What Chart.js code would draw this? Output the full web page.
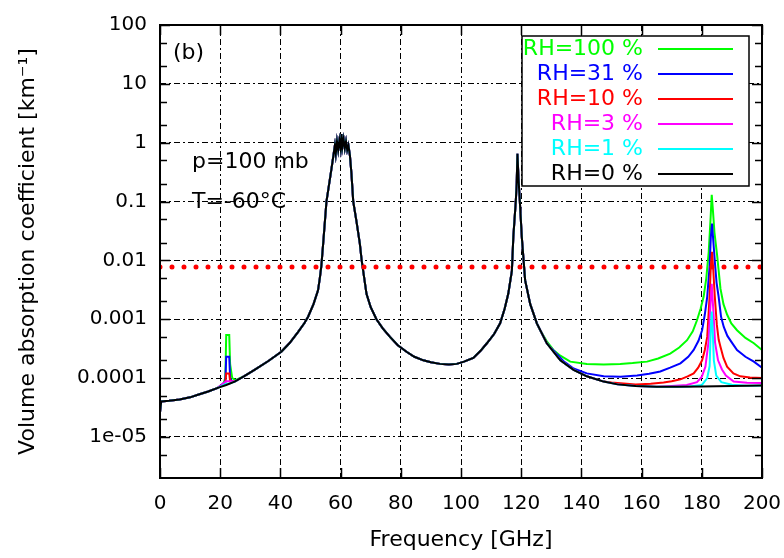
<!DOCTYPE html>
<html>
<head>
<meta charset="utf-8">
<script src="https://cdn.jsdelivr.net/npm/chart.js@4.4.1/dist/chart.umd.min.js"></script>
<style>
  html, body { margin: 0; padding: 0; background: #fff; }
  canvas { display: block; }
</style>
</head>
<body>
<canvas id="absChart" width="784" height="558"></canvas>
<script>
// dry air (RH=0 %), frequency [GHz] and absorption [km^-1]
var dryFreq = [0, 0.4, 3, 6.5, 10, 12.6, 16, 19.2, 22, 24.8, 28, 31.4, 36, 40.3, 43, 45.9, 48, 49.2, 51, 52.5,
    53.1, 53.6, 54.2, 55.3, 56.2, 57, 57.6, 58.1, 58.4, 58.8, 59.2, 59.6, 60.0, 60.3, 60.6, 61.0, 61.4, 61.8, 62.2, 62.6,
    63.1, 63.6, 64.2, 65.3, 66.4, 67, 68.6, 70, 71.9, 74, 76.4, 79, 81.9, 84.5, 87.5, 90, 93, 96, 98.6, 101,
    104.1, 106.5, 108.6, 111, 113, 114.5, 115.7, 116.9, 117.4, 118.2, 118.5, 118.75, 119.1, 119.6, 120.2, 121.3, 123, 125.2, 128.5, 133,
    137.4, 141.8, 147.4, 152, 158, 165, 172, 180, 190, 200];
var dryVals = [2.6e-5, 4.0e-5, 4.1e-5, 4.3e-5, 4.7e-5, 5.2e-5, 5.9e-5, 6.8e-5, 7.6e-5, 8.7e-5, 1.08e-4, 1.38e-4, 1.95e-4, 2.8e-4, 3.9e-4, 6.1e-4, 8.6e-4, 1.1e-3, 1.8e-3, 3.1e-3,
    5.0e-3, 8.0e-3, 0.019, 0.1, 0.2, 0.37, 0.6, 0.9, 0.65, 1.05, 0.75, 1.1, 0.8, 1.4, 0.85, 1.15, 0.8, 1.05, 0.75, 0.9,
    0.6, 0.3, 0.1, 0.045, 0.019, 0.01, 2.7e-3, 1.6e-3, 1.0e-3, 7.0e-4, 5.0e-4, 3.6e-4, 2.8e-4, 2.3e-4, 2.0e-4, 1.85e-4, 1.74e-4, 1.7e-4, 1.74e-4, 1.9e-4,
    2.2e-4, 2.9e-4, 3.9e-4, 5.6e-4, 8.5e-4, 1.5e-3, 2.7e-3, 6.6e-3, 0.026, 0.1, 0.2, 0.65, 0.25, 0.09, 0.025, 4.6e-3, 1.8e-3, 8.5e-4, 3.9e-4, 2.0e-4,
    1.38e-4, 1.07e-4, 8.7e-5, 7.8e-5, 7.3e-5, 7.1e-5, 7.1e-5, 7.2e-5, 7.3e-5, 7.5e-5];

// moist air: only the parts around the 22 GHz and 183 GHz water lines differ from dry air
var rh100Freq = [21.0, 21.7, 22.0, 23.0, 23.3, 24.0, 25.0,
    126.3, 128.5, 130.7, 133, 136.3, 141.8, 147.4, 152.9, 157, 161.8, 165.5, 169.5, 172.5, 175.1, 177, 178.4, 179.6, 180.6, 181.5,
    182.3, 182.9, 183.3, 183.7, 184.2, 185.1, 186.2, 187.2, 188.4, 189.8, 191.7, 194.5, 197.3, 200];
var rh100Vals = [7.8e-5, 1.0e-4, 5.4e-4, 5.4e-4, 1.7e-4, 1.0e-4, 9.2e-5,
    6.5e-4, 4.2e-4, 3.0e-4, 2.4e-4, 1.9e-4, 1.74e-4, 1.7e-4, 1.74e-4, 1.8e-4, 1.9e-4, 2.15e-4, 2.6e-4, 3.3e-4, 4.4e-4, 6.2e-4, 9.6e-4, 1.5e-3, 2.4e-3, 5.0e-3,
    0.014, 0.05, 0.13, 0.07, 0.03, 0.012, 3.3e-3, 1.8e-3, 1.2e-3, 8.5e-4, 6.5e-4, 4.8e-4, 3.9e-4, 3.0e-4];

var rh31Freq = [21.7, 22.0, 23.0, 23.3, 24.0,
    130, 134, 137.4, 141.8, 147.4, 153, 158.5, 162.5, 166.2, 169.5, 172.9, 175.5, 177.3, 178.9, 180.1, 181.0, 181.8, 182.6, 183.0, 183.4,
    183.8, 184.3, 184.9, 185.6, 186.4, 187.3, 188.5, 190, 191.7, 194.5, 197.3, 200];
var rh31Vals = [8.6e-5, 2.3e-4, 2.3e-4, 1.0e-4, 8.6e-5,
    3.2e-4, 1.95e-4, 1.45e-4, 1.2e-4, 1.07e-4, 1.05e-4, 1.1e-4, 1.18e-4, 1.29e-4, 1.5e-4, 1.78e-4, 2.3e-4, 3.0e-4, 4.3e-4, 6.5e-4, 1.2e-3, 2.4e-3, 8.0e-3, 0.025, 0.042,
    0.022, 0.01, 4.2e-3, 2.4e-3, 1.1e-3, 7.4e-4, 5.2e-4, 4.0e-4, 3.0e-4, 2.3e-4, 1.9e-4, 1.5e-4];

var rh10Freq = [21.7, 22.0, 23.0, 23.3,
    150, 158, 163, 167.3, 170, 172.9, 175.3, 177.3, 178.8, 180.1, 181.0, 181.8, 182.6, 183.0, 183.4, 183.8,
    184.3, 185.0, 185.6, 186.2, 187.2, 188.4, 190.5, 192.8, 196, 200];
var rh10Vals = [8.3e-5, 1.2e-4, 1.2e-4, 8.8e-5,
    8.4e-5, 7.8e-5, 8.0e-5, 8.4e-5, 8.8e-5, 9.5e-5, 1.07e-4, 1.2e-4, 1.5e-4, 2.0e-4, 3.0e-4, 5.0e-4, 2.5e-3, 8.0e-3, 0.014, 7.0e-3,
    2.5e-3, 8.0e-4, 4.5e-4, 3.4e-4, 2.2e-4, 1.56e-4, 1.2e-4, 1.07e-4, 1.02e-4, 1.0e-4];

var rh3Freq = [22.0, 23.0,
    170, 175, 178.4, 180, 181.2, 182.2, 182.8, 183.3, 183.8, 184.4, 185.4, 186.7, 188, 190.6, 195, 200];
var rh3Vals = [8.8e-5, 8.8e-5,
    7.3e-5, 7.6e-5, 8.5e-5, 1.05e-4, 1.56e-4, 4.0e-4, 1.5e-3, 4.0e-3, 1.5e-3, 4.0e-4, 2.0e-4, 1.4e-4, 1.1e-4, 8.7e-5, 8.3e-5, 8.2e-5];

var rh1Freq = [22.0, 23.0,
    176, 180, 181.8, 182.6, 183.0, 183.3, 183.6, 184.0, 184.8, 186.5, 190, 195];
var rh1Vals = [8.0e-5, 8.0e-5,
    7.2e-5, 7.6e-5, 1.0e-4, 1.6e-4, 7.0e-4, 1.35e-3, 7.0e-4, 2.0e-4, 1.1e-4, 8.5e-5, 7.7e-5, 7.4e-5];

var seriesLabels = ['RH=100 %', 'RH=31 %', 'RH=10 %', 'RH=3 %', 'RH=1 %', 'RH=0 %'];
var seriesColors = ['#00ff00', '#0000ff', '#ff0000', '#ff00ff', '#00ffff', '#000000'];

var yTickValues = [1e-5, 1e-4, 1e-3, 0.01, 0.1, 1, 10, 100];
var yTickLabels = ['1e-05', '0.0001', '0.001', '0.01', '0.1', '1', '10', '100'];
var thresholdLevel = 0.0077;

var fontName = '"DejaVu Sans", sans-serif';

function toPoints(freq, vals) {
    return freq.map(function(f, i) { return {x: f, y: vals[i]}; });
}

// wet curve = dry curve with the wet points replacing it over each water-line window
function withDry(freq, vals) {
    var windows = [];
    freq.forEach(function(f) {
        var w = windows[windows.length - 1];
        if (!w || f - w.hi > 10) { w = {lo: f, hi: f}; windows.push(w); }
        w.hi = f;
    });
    var pts = [];
    dryFreq.forEach(function(f, i) {
        var inside = windows.some(function(w) { return f >= w.lo && f <= w.hi; });
        if (!inside) pts.push({x: f, y: dryVals[i]});
    });
    pts = pts.concat(toPoints(freq, vals));
    pts.sort(function(a, b) { return a.x - b.x; });
    return pts;
}

var wetData = [withDry(rh100Freq, rh100Vals), withDry(rh31Freq, rh31Vals), withDry(rh10Freq, rh10Vals),
    withDry(rh3Freq, rh3Vals), withDry(rh1Freq, rh1Vals), toPoints(dryFreq, dryVals)];

function curve(i) {
    return {
        label: seriesLabels[i],
        data: wetData[i],
        borderColor: seriesColors[i],
        borderWidth: 2,
        pointRadius: 0,
        tension: 0
    };
}

// first dataset is drawn on top
var datasets = [{
    label: 'threshold',
    data: [{x: 0, y: thresholdLevel}, {x: 200, y: thresholdLevel}],
    borderColor: '#ff0000',
    borderWidth: 5,
    borderDash: [0, 12],
    borderCapStyle: 'round',
    pointRadius: 0
}, curve(5), curve(4), curve(3), curve(2), curve(1), curve(0)];

var framePlugin = {
    id: 'frame',
    afterDatasetsDraw: function(chart) {
        var ctx = chart.ctx, a = chart.chartArea;
        var x = chart.scales.x, y = chart.scales.y;
        ctx.save();
        ctx.strokeStyle = '#000';
        ctx.lineWidth = 1.5;
        ctx.setLineDash([]);
        ctx.beginPath();
        // minor ticks at 2 and 5 of every decade
        for (var e = -6; e <= 2; e++) {
            [2, 5].forEach(function(m) {
                var v = m * Math.pow(10, e);
                if (v <= y.min || v >= y.max) return;
                var py = Math.round(y.getPixelForValue(v)) + 0.5;
                ctx.moveTo(a.left, py); ctx.lineTo(a.left + 7, py);
                ctx.moveTo(a.right, py); ctx.lineTo(a.right - 7, py);
            });
        }
        yTickValues.forEach(function(v) {
            var py = Math.round(y.getPixelForValue(v)) + 0.5;
            ctx.moveTo(a.left, py); ctx.lineTo(a.left + 10, py);
            ctx.moveTo(a.right, py); ctx.lineTo(a.right - 10, py);
        });
        for (var f = 0; f <= 200; f += 20) {
            var px = Math.round(x.getPixelForValue(f)) + 0.5;
            ctx.moveTo(px, a.bottom); ctx.lineTo(px, a.bottom - 10);
            ctx.moveTo(px, a.top); ctx.lineTo(px, a.top + 10);
        }
        ctx.stroke();
        ctx.lineWidth = 2;
        ctx.strokeRect(a.left, a.top, a.right - a.left, a.bottom - a.top);

        // annotations
        ctx.fillStyle = '#000';
        ctx.font = '22px ' + fontName;
        ctx.textBaseline = 'middle';
        ctx.textAlign = 'left';
        ctx.fillText('(b)', a.left + 13, 53);
        ctx.fillText('p=100 mb', a.left + 32, 162);
        ctx.fillText('T=-60\u00b0C', a.left + 32, 202);

        // legend box
        var bx = 522, by = 36, bw = 227, bh = 150;
        ctx.fillStyle = '#fff';
        ctx.fillRect(bx, by, bw, bh);
        ctx.lineWidth = 1.5;
        ctx.strokeRect(bx, by, bw, bh);
        ctx.textAlign = 'right';
        seriesLabels.forEach(function(lab, i) {
            var ry = 49 + i * 25;
            ctx.fillStyle = seriesColors[i];
            ctx.fillText(lab, 643, ry);
            ctx.strokeStyle = seriesColors[i];
            ctx.lineWidth = 2;
            ctx.beginPath();
            ctx.moveTo(658, ry); ctx.lineTo(733, ry);
            ctx.stroke();
        });
        ctx.restore();
    }
};

var gridDash = [6, 3, 2, 3];

new Chart(document.getElementById('absChart'), {
    type: 'line',
    data: { datasets: datasets },
    options: {
        responsive: false,
        animation: false,
        layout: { padding: { top: 22, right: 22, left: 0, bottom: 0 } },
        plugins: {
            legend: { display: false },
            tooltip: { enabled: false }
        },
        scales: {
            x: {
                type: 'linear',
                min: 0,
                max: 200,
                afterFit: function(s) {
                    s.height = 80;
                    s.paddingLeft = 0;
                    s.paddingRight = 0;
                },
                grid: { color: '#000', lineWidth: 1, drawTicks: false },
                border: { display: false, dash: gridDash },
                ticks: {
                    stepSize: 20,
                    autoSkip: false,
                    maxRotation: 0,
                    padding: 14,
                    color: '#000',
                    font: { family: fontName, size: 20 }
                },
                title: {
                    display: true,
                    text: 'Frequency [GHz]',
                    color: '#000',
                    font: { family: fontName, size: 22 },
                    padding: { top: 0, bottom: 5 }
                }
            },
            y: {
                type: 'logarithmic',
                min: 2e-6,
                max: 100,
                afterFit: function(s) { s.width = 160; },
                afterBuildTicks: function(s) {
                    s.ticks = yTickValues.map(function(v) { return {value: v}; });
                },
                grid: { color: '#000', lineWidth: 1, drawTicks: false },
                border: { display: false, dash: gridDash },
                ticks: {
                    autoSkip: false,
                    padding: 13,
                    color: '#000',
                    font: { family: fontName, size: 20 },
                    callback: function(value) {
                        var i = yTickValues.indexOf(value);
                        return i < 0 ? '' : yTickLabels[i];
                    }
                },
                title: {
                    display: true,
                    text: 'Volume absorption coefficient [km\u207b\u00b9]',
                    color: '#000',
                    font: { family: fontName, size: 22 },
                    padding: { top: 15, bottom: 0 }
                }
            }
        }
    },
    plugins: [framePlugin]
});
</script>
</body>
</html>
